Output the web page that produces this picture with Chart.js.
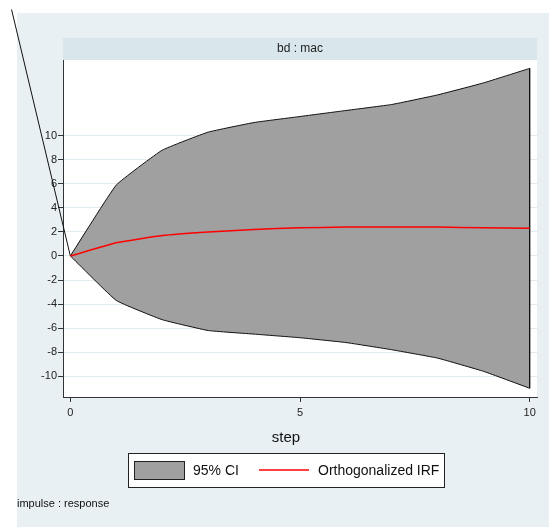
<!DOCTYPE html>
<html>
<head>
<meta charset="utf-8">
<script src="https://cdn.jsdelivr.net/npm/chart.js@4/dist/chart.umd.min.js"></script>
<style>
  html, body { margin: 0; padding: 0; background: #fff; }
  #wrap { width: 549px; height: 527px; }
</style>
</head>
<body>
<div id="wrap"><canvas id="irfChart" width="549" height="527"></canvas></div>
<script>
// Data
const steps = [0, 1, 2, 3, 4, 5, 6, 7, 8, 9, 10];
const ciUpper = [0, 5.9, 8.8, 10.3, 11.1, 11.6, 12.1, 12.6, 13.4, 14.4, 15.6];
const ciLower = [0, -3.7, -5.3, -6.2, -6.5, -6.8, -7.2, -7.8, -8.5, -9.6, -11.0];
const irf = [0, 1.1, 1.7, 2.0, 2.2, 2.35, 2.4, 2.4, 2.4, 2.35, 2.3];
// stray line running off the top-left of the plot into the origin
const strayX = [-1.28, 0];
const strayY = [20.5, 0];
const yTicks = [-10, -8, -6, -4, -2, 0, 2, 4, 6, 8, 10];
const xTicks = [0, 5, 10];

const panelTitle = 'bd : mac';
const xTitle = 'step';
const note = 'impulse : response';

const FONT = '"Liberation Sans", Arial, sans-serif';

const toPoints = (xs, ys) => xs.map((x, i) => ({ x: x, y: ys[i] }));

// Backgrounds, title band, axis title, legend and note
const decorPlugin = {
    id: 'decor',
    beforeDraw(chart) {
        const ctx = chart.ctx;
        const a = chart.chartArea;
        ctx.save();
        ctx.fillStyle = '#ffffff';
        ctx.fillRect(0, 0, chart.width, chart.height);
        ctx.fillStyle = '#e9f0f3';
        ctx.fillRect(17, 13, chart.width - 17, chart.height - 13);
        // title band
        ctx.fillStyle = '#d9e6ec';
        ctx.fillRect(a.left, 38, a.right - a.left, a.top - 38);
        ctx.fillStyle = '#222';
        ctx.font = '12px ' + FONT;
        ctx.textAlign = 'center';
        ctx.textBaseline = 'middle';
        ctx.fillText(panelTitle, (a.left + a.right) / 2, 49);
        // plot area
        ctx.fillStyle = '#ffffff';
        ctx.fillRect(a.left, a.top, a.right - a.left, a.bottom - a.top);
        ctx.restore();
    },
    afterDraw(chart) {
        const ctx = chart.ctx;
        ctx.save();
        ctx.fillStyle = '#111';
        ctx.font = '15px ' + FONT;
        ctx.textAlign = 'center';
        ctx.textBaseline = 'middle';
        ctx.fillText(xTitle, 286, 438);

        // legend box
        ctx.fillStyle = '#ffffff';
        ctx.fillRect(128, 453, 316, 34);
        ctx.strokeStyle = '#222';
        ctx.lineWidth = 1;
        ctx.strokeRect(128.5, 453.5, 316, 34);

        const ci = chart.data.datasets[0];
        const line = chart.data.datasets[2];
        ctx.fillStyle = ci.backgroundColor;
        ctx.fillRect(134, 461, 50, 18);
        ctx.strokeStyle = '#222';
        ctx.strokeRect(134.5, 461.5, 50, 18);
        ctx.fillStyle = '#111';
        ctx.font = '14px ' + FONT;
        ctx.textAlign = 'left';
        ctx.fillText(ci.label, 193, 471);

        ctx.strokeStyle = line.borderColor;
        ctx.lineWidth = 1.5;
        ctx.beginPath();
        ctx.moveTo(259, 470);
        ctx.lineTo(309, 470);
        ctx.stroke();
        ctx.fillText(line.label, 318, 471);

        ctx.font = '11px ' + FONT;
        ctx.fillText(note, 17, 504);
        ctx.restore();
    }
};

new Chart(document.getElementById('irfChart').getContext('2d'), {
    type: 'line',
    data: {
        datasets: [
            {
                label: '95% CI',
                data: toPoints(steps, ciUpper),
                borderColor: '#111',
                borderWidth: 1,
                backgroundColor: '#a0a0a0',
                fill: '+1',
                pointRadius: 0,
                tension: 0.1,
                order: 3
            },
            {
                label: 'lower',
                data: toPoints(steps, ciLower),
                borderColor: '#111',
                borderWidth: 1,
                fill: false,
                pointRadius: 0,
                tension: 0.1,
                order: 2
            },
            {
                label: 'Orthogonalized IRF',
                data: toPoints(steps, irf),
                borderColor: '#ff0000',
                borderWidth: 1.5,
                fill: false,
                pointRadius: 0,
                tension: 0.1,
                order: 0
            },
            {
                label: 'stray',
                data: toPoints(strayX, strayY),
                borderColor: '#111',
                borderWidth: 1,
                fill: false,
                pointRadius: 0,
                clip: false,
                order: 1
            },
            {
                // right edge of the band
                label: 'edge',
                data: toPoints([steps[10], steps[10]], [ciUpper[10], ciLower[10]]),
                borderColor: '#111',
                borderWidth: 1,
                fill: false,
                pointRadius: 0,
                order: 1
            }
        ]
    },
    options: {
        responsive: false,
        animation: false,
        layout: { padding: { left: 17, right: 12, top: 60, bottom: 80 } },
        plugins: {
            legend: { display: false },
            tooltip: { enabled: false }
        },
        scales: {
            x: {
                type: 'linear',
                min: -0.16,
                max: 10.16,
                afterBuildTicks: scale => { scale.ticks = xTicks.map(v => ({ value: v })); },
                afterFit: scale => { scale.height = 50; },
                grid: { drawOnChartArea: false, tickLength: 5, tickColor: '#333' },
                border: { color: '#333', width: 1 },
                ticks: {
                    color: '#222',
                    padding: 4,
                    maxRotation: 0,
                    font: { family: FONT, size: 11 }
                }
            },
            y: {
                type: 'linear',
                min: -11.73,
                max: 16.3,
                afterBuildTicks: scale => { scale.ticks = yTicks.map(v => ({ value: v })); },
                afterFit: scale => { scale.width = 46; },
                grid: { color: '#e2ebef', tickLength: 5, tickColor: '#333' },
                border: { color: '#333', width: 1 },
                ticks: {
                    color: '#222',
                    padding: 1,
                    font: { family: FONT, size: 11 }
                }
            }
        }
    },
    plugins: [decorPlugin]
});
</script>
</body>
</html>
